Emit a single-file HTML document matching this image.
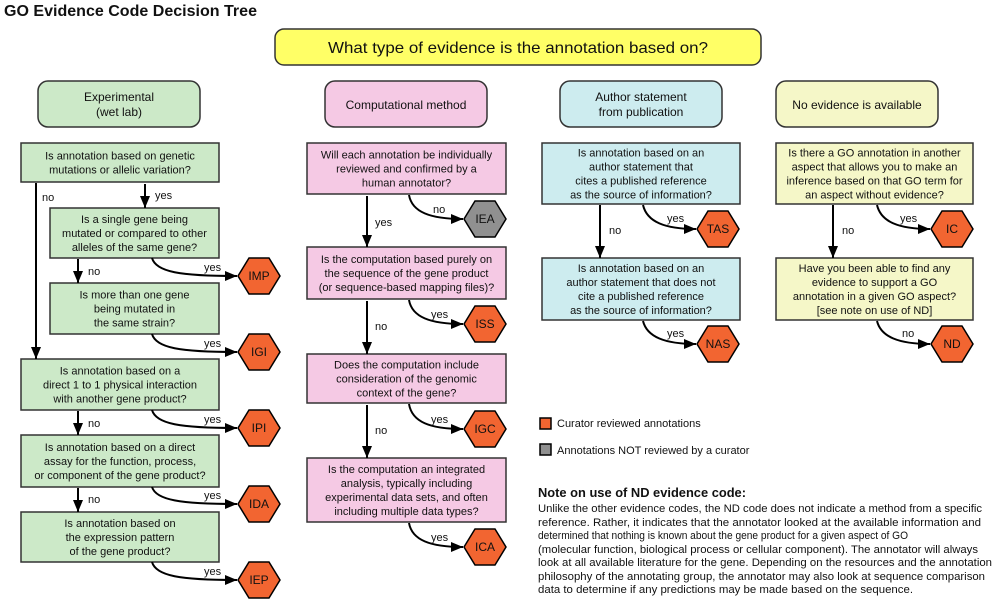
<!DOCTYPE html>
<html><head><meta charset="utf-8"><style>
html,body{margin:0;padding:0;background:#fff;}
svg{display:block;}
text{font-family:"Liberation Sans",sans-serif;fill:#111;}
.b{font-size:11px;text-anchor:middle;}
.l{font-size:11px;}
.h{font-size:12px;text-anchor:middle;}
.g{fill:#cce9c8;stroke:#333;stroke-width:1.5;}
.p{fill:#f5c9e4;stroke:#333;stroke-width:1.5;}
.c{fill:#cdecef;stroke:#333;stroke-width:1.5;}
.y{fill:#f5f7c8;stroke:#333;stroke-width:1.5;}
.ln{fill:none;stroke:#000;stroke-width:2;}
.hx{fill:#f26531;stroke:#000;stroke-width:1.5;}
.hg{fill:#909090;stroke:#000;stroke-width:1.5;}
</style></head><body>
<svg width="992" height="601" viewBox="0 0 992 601" xmlns="http://www.w3.org/2000/svg">
<defs><marker id="a" markerUnits="userSpaceOnUse" markerWidth="12" markerHeight="10" refX="12" refY="5" orient="auto"><path d="M0,0 L12,5 L0,10 z" fill="#000"/></marker></defs>

<text x="4" y="16" style="font-size:16px;font-weight:bold" textLength="253" lengthAdjust="spacingAndGlyphs">GO Evidence Code Decision Tree</text>
<rect x="275" y="29" width="486" height="36" rx="9" fill="#ffff66" stroke="#333" stroke-width="1.5"/>
<text x="518" y="53" style="font-size:16px;text-anchor:middle" textLength="380" lengthAdjust="spacingAndGlyphs">What type of evidence is the annotation based on?</text>

<rect x="38" y="81" width="162" height="46" rx="10" class="g"/>
<text class="h" x="119" y="101">Experimental</text><text class="h" x="119" y="116">(wet lab)</text>
<rect x="325" y="81" width="162" height="46" rx="10" class="p"/>
<text class="h" x="406" y="109">Computational method</text>
<rect x="560" y="81" width="162" height="46" rx="10" class="c"/>
<text class="h" x="641" y="101">Author statement</text><text class="h" x="641" y="116">from publication</text>
<rect x="776" y="81" width="162" height="46" rx="10" class="y"/>
<text class="h" x="857" y="109">No evidence is available</text>

<rect x="21" y="143" width="198" height="39" class="g"/>
<text class="b" x="120" y="159.5">Is annotation based on genetic</text><text class="b" x="120" y="173.5">mutations or allelic variation?</text>
<rect x="50" y="208" width="169" height="50" class="g"/>
<text class="b" x="134.5" y="223">Is a single gene being</text><text class="b" x="134.5" y="237">mutated or compared to other</text><text class="b" x="134.5" y="251">alleles of the same gene?</text>
<rect x="50" y="283" width="169" height="51" class="g"/>
<text class="b" x="134.5" y="298.5">Is more than one gene</text><text class="b" x="134.5" y="312.5">being mutated in</text><text class="b" x="134.5" y="326.5">the same strain?</text>
<rect x="21" y="359" width="198" height="51" class="g"/>
<text class="b" x="120" y="374.5">Is annotation based on a</text><text class="b" x="120" y="388.5">direct 1 to 1 physical interaction</text><text class="b" x="120" y="402.5">with another gene product?</text>
<rect x="21" y="435" width="198" height="52" class="g"/>
<text class="b" x="120" y="451">Is annotation based on a direct</text><text class="b" x="120" y="465">assay for the function, process,</text><text class="b" x="120" y="479">or component of the gene product?</text>
<rect x="21" y="512" width="198" height="50" class="g"/>
<text class="b" x="120" y="527">Is annotation based on</text><text class="b" x="120" y="541">the expression pattern</text><text class="b" x="120" y="555">of the gene product?</text>

<path class="ln" d="M36,183 V359" marker-end="url(#a)"/>
<text class="l" x="42" y="201">no</text>
<path class="ln" d="M145,184 V208" marker-end="url(#a)"/>
<text class="l" x="155" y="199">yes</text>
<path class="ln" d="M78,259 V283" marker-end="url(#a)"/>
<text class="l" x="88" y="275">no</text>
<path class="ln" d="M78,411 V435" marker-end="url(#a)"/>
<text class="l" x="88" y="427">no</text>
<path class="ln" d="M78,488 V512" marker-end="url(#a)"/>
<text class="l" x="88" y="503">no</text>
<path class="ln" d="M152,258 C156,272 180,276 237,276" marker-end="url(#a)"/><text class="l" x="204" y="271">yes</text>
<path class="ln" d="M152,334 C156,348 180,352 237,352" marker-end="url(#a)"/><text class="l" x="204" y="347">yes</text>
<path class="ln" d="M152,410 C156,424 180,428 237,428" marker-end="url(#a)"/><text class="l" x="204" y="423">yes</text>
<path class="ln" d="M152,487 C156,500 180,504 237,504" marker-end="url(#a)"/><text class="l" x="204" y="499">yes</text>
<path class="ln" d="M152,562 C156,576 180,580 237,580" marker-end="url(#a)"/><text class="l" x="204" y="575">yes</text>

<rect x="307" y="143" width="199" height="51" class="p"/>
<text class="b" x="406.5" y="158.5">Will each annotation be individually</text><text class="b" x="406.5" y="172.5">reviewed and confirmed by a</text><text class="b" x="406.5" y="186.5">human annotator?</text>
<rect x="307" y="247" width="199" height="52" class="p"/>
<text class="b" x="406.5" y="263">Is the computation based purely on</text><text class="b" x="406.5" y="277">the sequence of the gene product</text><text class="b" x="406.5" y="291">(or sequence-based mapping files)?</text>
<rect x="307" y="354" width="199" height="49" class="p"/>
<text class="b" x="406.5" y="368.5">Does the computation include</text><text class="b" x="406.5" y="382.5">consideration of the genomic</text><text class="b" x="406.5" y="396.5">context of the gene?</text>
<rect x="307" y="458" width="199" height="64" class="p"/>
<text class="b" x="406.5" y="473">Is the computation an integrated</text><text class="b" x="406.5" y="487">analysis, typically including</text><text class="b" x="406.5" y="501">experimental data sets, and often</text><text class="b" x="406.5" y="515">including multiple data types?</text>

<path class="ln" d="M367,196 V247" marker-end="url(#a)"/><text class="l" x="375" y="226">yes</text>
<path class="ln" d="M367,301 V354" marker-end="url(#a)"/><text class="l" x="375" y="330">no</text>
<path class="ln" d="M367,405 V458" marker-end="url(#a)"/><text class="l" x="375" y="434">no</text>
<path class="ln" d="M409,195 C412,212 430,219 463,219" marker-end="url(#a)"/><text class="l" x="433" y="213">no</text>
<path class="ln" d="M409,300 C412,317 430,324 463,324" marker-end="url(#a)"/><text class="l" x="431" y="318">yes</text>
<path class="ln" d="M409,404 C412,422 430,429 463,429" marker-end="url(#a)"/><text class="l" x="431" y="423">yes</text>
<path class="ln" d="M409,523 C412,540 430,547 463,547" marker-end="url(#a)"/><text class="l" x="431" y="541">yes</text>

<rect x="542" y="143" width="198" height="61" class="c"/>
<text class="b" x="641" y="156.5">Is annotation based on an</text><text class="b" x="641" y="170.5">author statement that</text><text class="b" x="641" y="184.5">cites a published reference</text><text class="b" x="641" y="198.5">as the source of information?</text>
<rect x="542" y="258" width="198" height="62" class="c"/>
<text class="b" x="641" y="272">Is annotation based on an</text><text class="b" x="641" y="286">author statement that does not</text><text class="b" x="641" y="300">cite a published reference</text><text class="b" x="641" y="314">as the source of information?</text>
<path class="ln" d="M600,205 V258" marker-end="url(#a)"/><text class="l" x="609" y="234">no</text>
<path class="ln" d="M643,205 C647,222 665,229 696,229" marker-end="url(#a)"/><text class="l" x="667" y="222">yes</text>
<path class="ln" d="M643,321 C647,337 665,344 696,344" marker-end="url(#a)"/><text class="l" x="667" y="337">yes</text>

<rect x="776" y="143" width="197" height="61" class="y"/>
<text class="b" x="874.5" y="156.5">Is there a GO annotation in another</text><text class="b" x="874.5" y="170.5">aspect that allows you to make an</text><text class="b" x="874.5" y="184.5">inference based on that GO term for</text><text class="b" x="874.5" y="198.5">an aspect without evidence?</text>
<rect x="776" y="258" width="197" height="62" class="y"/>
<text class="b" x="874.5" y="272">Have you been able to find any</text><text class="b" x="874.5" y="286">evidence to support a GO</text><text class="b" x="874.5" y="300">annotation in a given GO aspect?</text><text class="b" x="874.5" y="314">[see note on use of ND]</text>
<path class="ln" d="M833,205 V258" marker-end="url(#a)"/><text class="l" x="842" y="234">no</text>
<path class="ln" d="M877,205 C881,222 899,229 930,229" marker-end="url(#a)"/><text class="l" x="900" y="222">yes</text>
<path class="ln" d="M877,321 C881,337 899,344 930,344" marker-end="url(#a)"/><text class="l" x="902" y="337">no</text>

<g>
<polygon class="hx" points="238,276 249,258 269,258 280,276 269,294 249,294"/><text class="b" x="259" y="280" style="font-size:12px">IMP</text>
<polygon class="hx" points="238,352 249,334 269,334 280,352 269,370 249,370"/><text class="b" x="259" y="356" style="font-size:12px">IGI</text>
<polygon class="hx" points="238,428 249,410 269,410 280,428 269,446 249,446"/><text class="b" x="259" y="432" style="font-size:12px">IPI</text>
<polygon class="hx" points="238,504 249,486 269,486 280,504 269,522 249,522"/><text class="b" x="259" y="508" style="font-size:12px">IDA</text>
<polygon class="hx" points="238,580 249,562 269,562 280,580 269,598 249,598"/><text class="b" x="259" y="584" style="font-size:12px">IEP</text>
<polygon class="hg" points="464,219 475,201 495,201 506,219 495,237 475,237"/><text class="b" x="485" y="223" style="font-size:12px">IEA</text>
<polygon class="hx" points="464,324 475,306 495,306 506,324 495,342 475,342"/><text class="b" x="485" y="328" style="font-size:12px">ISS</text>
<polygon class="hx" points="464,429 475,411 495,411 506,429 495,447 475,447"/><text class="b" x="485" y="433" style="font-size:12px">IGC</text>
<polygon class="hx" points="464,547 475,529 495,529 506,547 495,565 475,565"/><text class="b" x="485" y="551" style="font-size:12px">ICA</text>
<polygon class="hx" points="697,229 708,211 728,211 739,229 728,247 708,247"/><text class="b" x="718" y="233" style="font-size:12px">TAS</text>
<polygon class="hx" points="697,344 708,326 728,326 739,344 728,362 708,362"/><text class="b" x="718" y="348" style="font-size:12px">NAS</text>
<polygon class="hx" points="931,229 942,211 962,211 973,229 962,247 942,247"/><text class="b" x="952" y="233" style="font-size:12px">IC</text>
<polygon class="hx" points="931,344 942,326 962,326 973,344 962,362 942,362"/><text class="b" x="952" y="348" style="font-size:12px">ND</text>
</g>

<rect x="540" y="418" width="11" height="11" fill="#f26531" stroke="#000" stroke-width="1.5"/>
<text class="l" x="557" y="427">Curator reviewed annotations</text>
<rect x="540" y="444" width="11" height="11" fill="#909090" stroke="#000" stroke-width="1.5"/>
<text class="l" x="557" y="454">Annotations NOT reviewed by a curator</text>

<text x="538" y="497" style="font-size:13px;font-weight:bold" textLength="208" lengthAdjust="spacingAndGlyphs">Note on use of ND evidence code:</text>
<text class="l" x="538" y="512" textLength="444" lengthAdjust="spacingAndGlyphs">Unlike the other evidence codes, the ND code does not indicate a method from a specific</text>
<text class="l" x="538" y="526" textLength="443" lengthAdjust="spacingAndGlyphs">reference. Rather, it indicates that the annotator looked at the available information and</text>
<text x="538" y="539" style="font-size:11px" textLength="370" lengthAdjust="spacingAndGlyphs">determined that nothing is known about the gene product for a given aspect of GO</text>
<text class="l" x="538" y="553" textLength="440" lengthAdjust="spacingAndGlyphs">(molecular function, biological process or cellular component). The annotator will always</text>
<text class="l" x="538" y="566" textLength="454" lengthAdjust="spacingAndGlyphs">look at all available literature for the gene. Depending on the resources and the annotation</text>
<text class="l" x="538" y="580" textLength="447" lengthAdjust="spacingAndGlyphs">philosophy of the annotating group, the annotator may also look at sequence comparison</text>
<text class="l" x="538" y="593" textLength="375" lengthAdjust="spacingAndGlyphs">data to determine if any predictions may be made based on the sequence.</text>
</svg>
</body></html>
